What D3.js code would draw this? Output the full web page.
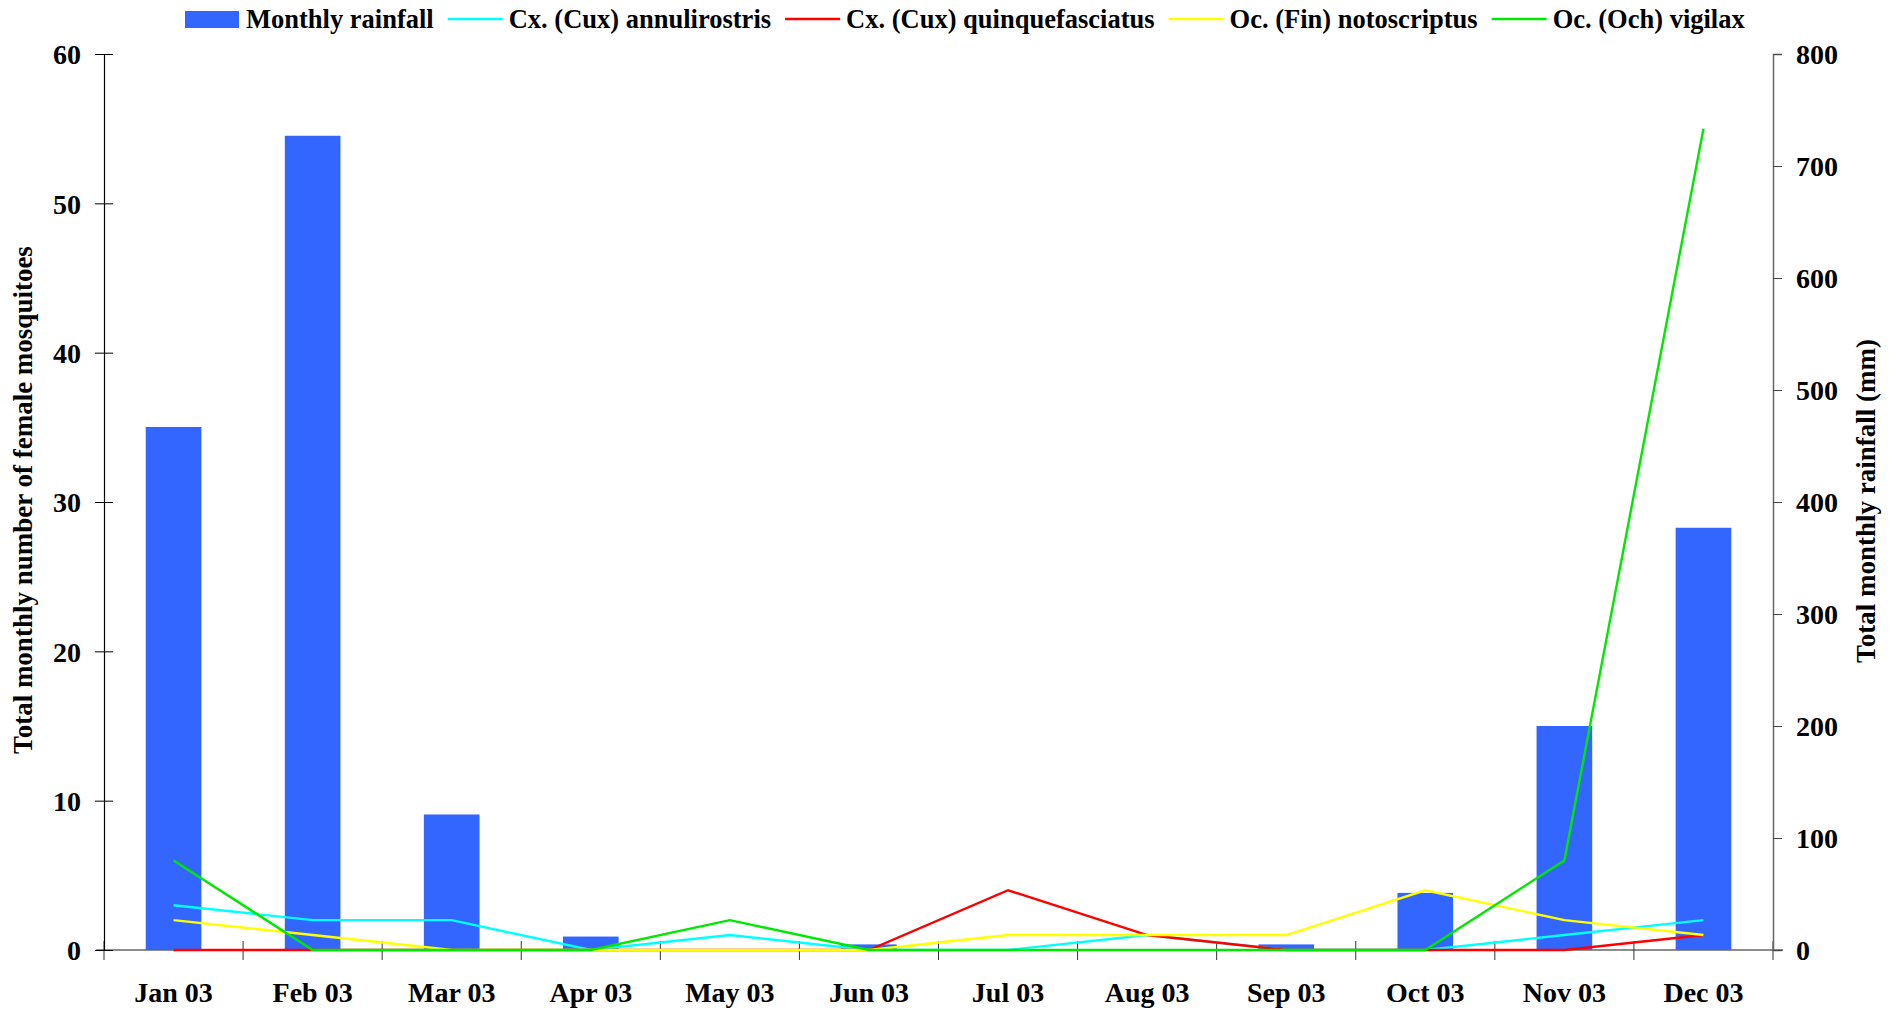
<!DOCTYPE html>
<html>
<head>
<meta charset="utf-8">
<script src="https://cdn.jsdelivr.net/npm/d3@7/dist/d3.min.js"></script>
<style>
  html, body { margin: 0; padding: 0; background: #fff; }
  svg { display: block; font-family: "Liberation Serif", "Times New Roman", serif; font-weight: bold; }
</style>
</head>
<body>
<svg id="chart" width="1899" height="1013"></svg>
<script>
const months = ["Jan 03","Feb 03","Mar 03","Apr 03","May 03","Jun 03","Jul 03","Aug 03","Sep 03","Oct 03","Nov 03","Dec 03"];
const rainfall = [467, 727, 121, 12, 0, 5, 0, 0, 5, 51, 200, 377];
const annulirostris = [3, 2, 2, 0, 1, 0, 0, 1, 0, 0, 1, 2];
const quinquefasciatus = [0, 0, 0, 0, 0, 0, 4, 1, 0, 0, 0, 1];
const notoscriptus = [2, 1, 0, 0, 0, 0, 1, 1, 1, 4, 2, 1];
const vigilax = [6, 0, 0, 0, 2, 0, 0, 0, 0, 0, 6, 55];
const leftTicks = [0, 10, 20, 30, 40, 50, 60];
const rightTicks = [0, 100, 200, 300, 400, 500, 600, 700, 800];

const seriesList = [
  { name: "Cx. (Cux) annulirostris", values: annulirostris, color: "#00ffff" },
  { name: "Cx. (Cux) quinquefasciatus", values: quinquefasciatus, color: "#ff0000" },
  { name: "Oc. (Fin) notoscriptus", values: notoscriptus, color: "#ffff00" },
  { name: "Oc. (Och) vigilax", values: vigilax, color: "#00e800" }
];
const barColor = "#3366ff";

const svg = d3.select("#chart");
const L = 104, R = 1773, T = 54, B = 950;
const FONT = "Liberation Serif, Times New Roman, serif";

const xBand = d3.scaleBand().domain(months).range([L, R]).padding(0);
const xBar = d3.scaleBand().domain(months).range([L, R]).paddingInner(0.6).paddingOuter(0.3);
const yLeft = d3.scaleLinear().domain([0, 60]).range([B, T]);
const yRight = d3.scaleLinear().domain([0, 800]).range([B, T]);
const cx = m => xBand(m) + xBand.bandwidth() / 2;

// bars
svg.append("g").selectAll("rect").data(months).join("rect")
  .attr("x", d => xBar(d))
  .attr("width", xBar.bandwidth())
  .attr("y", (d, i) => yRight(rainfall[i]))
  .attr("height", (d, i) => B - yRight(rainfall[i]))
  .attr("fill", barColor);

// bottom axis
const gx = svg.append("g").attr("transform", `translate(0,${B})`)
  .call(d3.axisBottom(xBand).tickSize(0).tickPadding(0));
gx.select(".domain").remove();
gx.selectAll("text").attr("y", 52).attr("dy", null).attr("font-size", 28)
  .attr("font-family", FONT).attr("font-weight", "bold").attr("fill", "#000");
svg.append("line").attr("x1", L - 8).attr("x2", R + 10).attr("y1", B).attr("y2", B)
  .attr("stroke", "#666").attr("stroke-width", 1.5);
svg.append("g").selectAll("line").data(months.concat(["end"])).join("line")
  .attr("x1", (d, i) => i < months.length ? xBand(d) : R)
  .attr("x2", (d, i) => i < months.length ? xBand(d) : R)
  .attr("y1", B - 9).attr("y2", B + 10)
  .attr("stroke", "#333").attr("stroke-width", 1);

// left axis
const gl = svg.append("g").attr("transform", `translate(${L},0)`)
  .call(d3.axisLeft(yLeft).tickValues(leftTicks).tickSize(9).tickPadding(0));
gl.select(".domain").attr("stroke", "#000").attr("stroke-width", 1.2);
gl.selectAll(".tick line").attr("x1", 9).attr("x2", -9).attr("stroke", "#000");
gl.selectAll("text").attr("x", -23).attr("dy", "0.35em").attr("font-size", 28)
  .attr("font-family", FONT).attr("font-weight", "bold").attr("fill", "#000");

// right axis
const gr = svg.append("g").attr("transform", `translate(${R},0)`)
  .call(d3.axisRight(yRight).tickValues(rightTicks).tickSize(9).tickPadding(0));
gr.select(".domain").attr("stroke", "#666").attr("stroke-width", 1.5);
gr.selectAll(".tick line").attr("stroke", "#444");
gr.selectAll("text").attr("x", 23).attr("dy", "0.35em").attr("font-size", 28)
  .attr("font-family", FONT).attr("font-weight", "bold").attr("fill", "#000");

// lines
const line = d3.line().x(d => cx(d.m)).y(d => yLeft(d.v));
seriesList.forEach(s => {
  svg.append("path")
    .datum(months.map((m, i) => ({ m, v: s.values[i] })))
    .attr("d", line)
    .attr("fill", "none")
    .attr("stroke", s.color)
    .attr("stroke-width", 2.4);
});

// axis titles
svg.append("text")
  .attr("transform", `translate(32,500) rotate(-90)`)
  .attr("text-anchor", "middle")
  .attr("font-size", 27)
  .text("Total monthly number of female mosquitoes");
svg.append("text")
  .attr("transform", `translate(1875,501) rotate(-90)`)
  .attr("text-anchor", "middle")
  .attr("font-size", 27)
  .text("Total monthly rainfall (mm)");

// legend
const lg = svg.append("g");
let lx = 185;
const ly = 19;
const items = [{ name: "Monthly rainfall", color: barColor, type: "bar" }]
  .concat(seriesList.map(s => ({ name: s.name, color: s.color, type: "line" })));
items.forEach(it => {
  if (it.type === "bar") {
    lg.append("rect").attr("x", lx).attr("y", ly - 8).attr("width", 54).attr("height", 17).attr("fill", it.color);
  } else {
    lg.append("line").attr("x1", lx).attr("x2", lx + 55).attr("y1", ly).attr("y2", ly)
      .attr("stroke", it.color).attr("stroke-width", 2.5);
  }
  lx += 61;
  const t = lg.append("text").attr("x", lx).attr("y", ly).attr("dy", "0.35em")
    .attr("font-size", 26.5).text(it.name);
  lx += t.node().getComputedTextLength() + 14;
});
</script>
</body>
</html>
